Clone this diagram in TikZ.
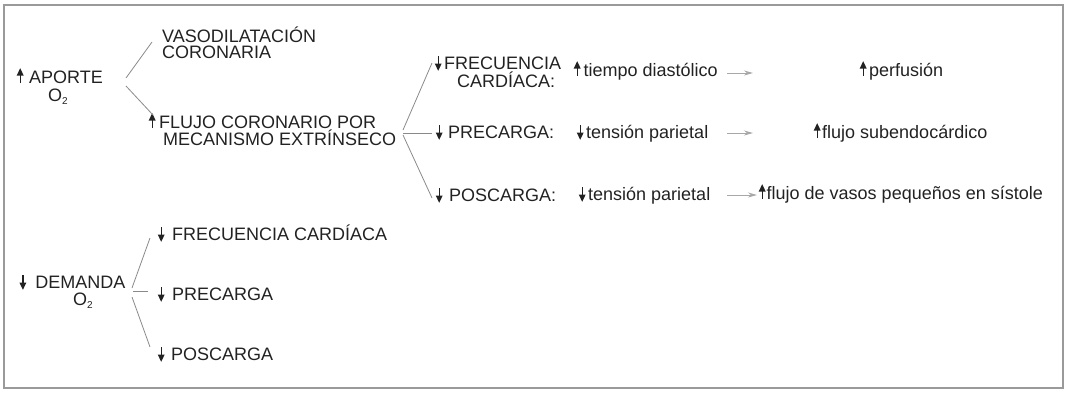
\documentclass[tikz,border=0pt]{standalone}
\usepackage{fontspec}
\setmainfont{Liberation Sans}
\usetikzlibrary{arrows.meta}
\definecolor{ink}{HTML}{222222}
\definecolor{linegray}{HTML}{8A8A8A}
\definecolor{framegray}{HTML}{9A9A9A}
\definecolor{arrgray}{HTML}{A8A8A8}
\newcommand{\uparr}{\tikz[baseline=0pt,x=1pt,y=1pt]{\draw[line width=1.2pt] (0,0)--(0,9); \fill (-3.5,7.5)--(3.5,7.5)--(0,14.8)--cycle;}}
\newcommand{\dnarr}{\tikz[baseline=0pt,x=1pt,y=1pt]{\draw[line width=1.2pt] (0,13)--(0,4); \fill (-3.5,5.5)--(3.5,5.5)--(0,-1.8)--cycle;}}
\newcommand{\Otwo}{O\raisebox{-3.5pt}{\fontsize{10}{10}\selectfont 2}}
\begin{document}
\begin{tikzpicture}[x=1pt,y=-1pt,
  txt/.style={anchor=base west, inner sep=0pt, text=ink, font=\fontsize{18}{20}\selectfont},
  branch/.style={draw=linegray, line width=0.8pt},
  flow/.style={draw=arrgray, line width=0.9pt, -{Stealth[length=9pt,width=5pt]}}]
\useasboundingbox (0,0) rectangle (1066,392);
\draw[framegray, line width=1.3pt] (4,5) rectangle (1063,388);

% --- upper left group
\node[txt] (ap) at (16.5,83) {\uparr\hspace{5.5pt}APORTE};
\node[txt] (apo2) at (48,101) {\Otwo};
\node[txt] (vaso1) at (162,42) {VASODILATACIÓN};
\node[txt] (vaso2) at (162,58) {CORONARIA};
\node[txt] (flujo1) at (148.5,128) {\uparr\hspace{3.5pt}FLUJO CORONARIO POR};
\node[txt] (flujo2) at (163,145) {MECANISMO EXTRÍNSECO};

\coordinate (apA) at (126,78);
\coordinate (apB) at (126,86);
\coordinate (vasoL) at (152,42);
\coordinate (flujoL) at (153,115);
\draw[branch] (apA) -- (vasoL);
\draw[branch] (apB) -- (flujoL);

% --- fork
\coordinate (fkA) at (403,130);
\coordinate (fkB) at (403,133);
\coordinate (fkC) at (403,135);
\coordinate (frecL) at (432,63);
\coordinate (precL) at (432,133);
\coordinate (poscL) at (432,198);
\draw[branch] (fkA) -- (frecL);
\draw[branch] (fkB) -- (precL);
\draw[branch] (fkC) -- (poscL);

% --- middle rows
\node[txt] (frec1) at (434.5,69) {\dnarr\hspace{2.5pt}FRECUENCIA};
\node[txt] (frec2) at (457,87) {CARDÍACA:};
\node[txt] (tiempo) at (573.5,76) {\uparr\hspace{3pt}tiempo diastólico};
\node[txt] (perf) at (859.5,76) {\uparr\hspace{2.5pt}perfusión};

\node[txt] (prec) at (435.5,138) {\dnarr\hspace{5.5pt}PRECARGA:};
\node[txt] (tens1) at (576.5,138) {\dnarr\hspace{2.5pt}tensión parietal};
\node[txt] (subendo) at (813.5,138) {\uparr\hspace{1.5pt}flujo subendocárdico};

\node[txt] (posc) at (435.5,201) {\dnarr\hspace{6.5pt}POSCARGA:};
\node[txt] (tens2) at (578.5,200) {\dnarr\hspace{2.5pt}tensión parietal};
\node[txt] (vasos) at (758.5,199) {\uparr\hspace{1pt}flujo de vasos pequeños en sístole};

\coordinate (f1a) at (727,73);
\coordinate (f1b) at (753,73);
\coordinate (f2a) at (727,133);
\coordinate (f2b) at (753,133);
\coordinate (f3a) at (727,195);
\coordinate (f3b) at (757,195);
\draw[flow] (f1a) -- (f1b);
\draw[flow] (f2a) -- (f2b);
\draw[flow] (f3a) -- (f3b);

% --- lower left group
\node[txt] (dem) at (19.2,288) {\dnarr\hspace{9pt}DEMANDA};
\node[txt] (demo2) at (73,305) {\Otwo};
\node[txt] (bfrec) at (157.5,240) {\dnarr\hspace{7.5pt}FRECUENCIA CARDÍACA};
\node[txt] (bprec) at (157.5,300) {\dnarr\hspace{7.5pt}PRECARGA};
\node[txt] (bposc) at (157.5,360) {\dnarr\hspace{6.5pt}POSCARGA};

\coordinate (dmA) at (132,288);
\coordinate (dmB) at (133,291);
\coordinate (dmC) at (132,297);
\coordinate (bfrecL) at (150,238);
\coordinate (bprecL) at (148,291);
\coordinate (bposcL) at (150,347);
\draw[branch] (dmA) -- (bfrecL);
\draw[branch] (dmB) -- (bprecL);
\draw[branch] (dmC) -- (bposcL);
\end{tikzpicture}
\end{document}
